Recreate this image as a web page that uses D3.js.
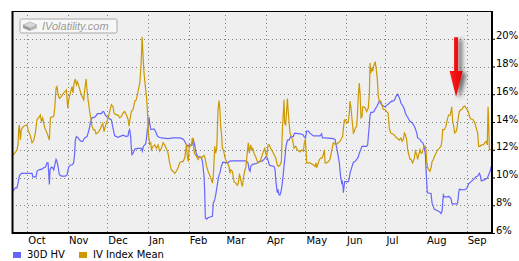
<!DOCTYPE html>
<html>
<head>
<meta charset="utf-8">
<script src="https://cdn.jsdelivr.net/npm/d3@7"></script>
<style>
  body { margin: 0; background: #fff; }
  text { font-family: "DejaVu Sans", Verdana, sans-serif; font-size: 10px; fill: #000; }
</style>
</head>
<body>
<svg id="chart"></svg>
<script>
// day offsets are counted from 1 Oct 2009, values in percent
const seriesNames = ['30D HV', 'IV Index Mean'];
const seriesColors = ['#6666ff', '#cc9900'];
const yTicks = [6, 8, 10, 12, 14, 16, 18, 20];

const hv30 = [
  [-11.7,8.9],[-10.4,9.1],[-9.1,9.25],[-7.9,9.25],[-7.1,9.6],[-6.1,10.1],[-4.6,10.3],[3.6,10.3],[4.1,10.05],
  [6.6,10.05],[7.4,10.45],[8.7,10.55],[11.2,10.6],[12.5,10.7],[13.8,10.75],[15.0,11.05],[15.8,11.05],[16.3,10.3],
  [16.8,9.5],[17.3,10.55],[18.3,10.75],[19.3,10.7],[20.1,10.55],[20.9,10.9],[21.9,11.3],[22.6,11.15],[23.4,10.8],
  [24.4,10.2],[26.0,10.1],[29.0,10.1],[30.3,10.2],[31.5,10.75],[32.8,10.9],[34.1,10.9],[35.3,11.05],[36.1,11.75],
  [36.6,12.7],[37.4,12.95],[38.7,12.85],[39.9,12.7],[41.2,12.6],[42.2,12.6],[43.7,12.85],[45.5,12.95],[46.3,13.2],
  [47.3,13.55],[48.3,14.05],[49.3,14.3],[51.4,14.35],[52.4,14.45],[53.4,14.6],[56.4,14.6],[57.5,14.75],[58.2,14.75],
  [59.5,14.5],[60.8,14.35],[61.5,14.3],[64.1,14.15],[65.3,13.55],[66.6,13.0],[69.2,12.9],[71.7,13.0],[73.0,13.05],
  [75.5,12.95],[76.8,13.0],[77.3,13.3],[78.0,13.45],[78.8,12.95],[79.3,12.1],[79.8,11.65],[80.6,11.75],[81.9,12.05],
  [84.4,12.1],[87.0,12.1],[87.7,11.9],[88.5,12.25],[89.5,12.35],[90.3,12.45],[91.0,12.95],[91.5,13.45],[92.3,13.7],
  [92.8,14.35],[93.3,13.9],[94.1,13.45],[96.6,13.5],[97.9,13.3],[99.1,13.0],[100.4,12.9],[102.2,12.85],[107.3,12.8],
  [111.1,12.85],[116.2,12.85],[118.0,12.8],[119.5,12.7],[120.5,12.5],[121.5,12.35],[122.5,12.25],[123.5,12.35],
  [125.6,12.35],[126.6,12.7],[127.6,12.35],[128.1,12.0],[129.1,11.65],[130.2,11.5],[132.7,11.45],[133.7,11.05],
  [134.2,10.55],[134.7,10.1],[135.2,9.1],[135.7,7.1],[136.8,7.0],[137.8,7.1],[139.3,7.15],[141.1,7.2],[141.8,8.15],
  [142.9,8.4],[143.9,8.9],[144.9,9.5],[145.9,10.1],[146.9,10.35],[147.9,10.8],[149.0,11.1],[153.0,11.05],[153.8,11.15],
  [155.1,11.2],[166.5,11.2],[167.3,11.15],[168.3,11.05],[169.1,10.55],[169.8,10.45],[170.3,10.8],[171.6,10.95],
  [174.1,11.0],[175.4,11.05],[176.7,11.15],[179.2,11.2],[180.5,11.3],[181.2,11.4],[182.0,11.5],[183.0,11.4],
  [183.8,11.15],[184.5,10.9],[185.5,10.85],[188.1,10.8],[188.9,10.55],[189.4,9.85],[190.1,9.25],[190.6,8.9],
  [191.1,9.15],[191.9,8.75],[192.7,8.75],[193.7,9.1],[194.4,9.6],[195.2,10.3],[195.7,10.8],[196.5,11.5],[197.2,12.25],
  [198.3,12.7],[199.5,12.7],[200.8,12.95],[202.8,12.95],[203.8,13.2],[207.9,13.15],[209.9,13.1],[211.0,12.95],
  [212.0,12.85],[213.0,13.35],[214.3,13.35],[215.5,13.2],[218.1,13.0],[223.2,13.0],[224.4,13.15],[225.0,12.85],
  [227.0,12.85],[233.3,12.8],[234.6,12.75],[235.4,12.35],[236.4,11.9],[237.1,11.5],[237.9,11.05],[238.4,10.55],
  [238.9,10.05],[239.7,9.6],[240.2,9.7],[240.7,9.35],[241.0,8.9],[241.5,9.35],[242.0,9.7],[244.8,9.7],[245.5,9.95],
  [246.0,10.3],[246.8,10.55],[247.6,10.8],[248.6,11.1],[249.8,11.15],[251.1,11.3],[252.4,11.5],[253.1,11.75],
  [254.2,12.0],[255.2,12.25],[258.7,12.25],[259.5,12.35],[260.0,12.95],[260.8,13.8],[261.3,14.5],[262.0,14.7],
  [263.3,14.7],[264.3,14.75],[265.3,14.95],[266.4,15.1],[267.4,15.3],[268.4,15.5],[269.4,15.35],[270.4,15.2],
  [272.7,15.1],[274.0,15.2],[275.3,15.3],[276.5,15.4],[277.8,15.5],[279.1,15.5],[280.3,15.65],[281.1,15.85],
  [282.4,16.0],[283.1,15.85],[284.2,15.6],[284.9,15.35],[285.7,15.25],[286.7,15.1],[287.5,14.9],[288.2,14.65],
  [289.2,14.45],[290.0,14.35],[290.8,14.2],[291.8,14.05],[293.8,13.9],[295.1,13.7],[295.9,13.5],[296.9,13.2],
  [297.6,12.85],[299.4,12.75],[300.2,12.6],[301.5,12.5],[302.2,12.35],[303.0,12.0],[303.5,11.65],[304.0,10.55],
  [304.5,9.7],[305.0,8.9],[307.8,8.85],[308.6,8.15],[309.6,7.9],[310.4,7.7],[312.9,7.6],[314.7,7.5],[315.4,7.4],
  [316.2,7.55],[316.7,8.15],[317.2,8.75],[318.0,8.6],[320.5,8.6],[321.3,8.65],[323.0,8.5],[323.8,8.1],[327.9,8.1],
  [328.4,8.4],[328.9,8.9],[329.4,9.15],[333.2,9.1],[335.0,9.2],[336.5,9.55],[338.3,9.7],[340.1,9.85],[342.1,10.05],
  [343.4,10.1],[344.7,10.3],[345.5,10.1],[346.2,9.75],[348.5,9.85],[350.7,9.95],[351.8,10.2],[352.8,10.45],
  [353.5,10.7],[354.3,10.95]
];

const ivMean = [
  [-11.7,11.55],[-9.6,11.75],[-7.9,12.0],[-7.1,12.4],[-6.6,13.45],[-6.1,13.8],[-5.3,12.7],[-4.6,13.45],[-2.8,13.7],
  [-0.2,13.8],[0.5,13.45],[2.3,13.0],[3.6,12.5],[4.9,12.7],[6.1,13.2],[7.4,14.2],[8.7,14.3],[9.9,14.5],[10.7,14.05],
  [11.7,14.3],[12.7,13.8],[13.8,13.45],[15.0,13.2],[16.3,12.85],[16.8,12.7],[17.6,14.3],[18.8,14.35],[20.1,14.4],
  [20.9,15.0],[21.9,16.45],[22.6,16.55],[23.4,16.0],[24.4,15.7],[26.0,15.85],[27.7,16.1],[29.0,16.2],[29.8,16.3],
  [30.8,15.0],[31.5,15.6],[32.8,16.1],[34.1,16.55],[34.8,16.1],[35.6,16.8],[36.6,17.1],[37.4,16.7],[38.1,16.9],
  [39.2,16.6],[40.4,16.2],[41.7,15.85],[43.0,15.6],[43.7,16.3],[44.8,17.1],[45.5,16.3],[46.3,15.6],[47.3,14.9],
  [48.3,14.3],[49.3,13.7],[50.3,13.45],[51.4,13.45],[52.4,13.15],[53.4,13.2],[54.4,13.3],[55.4,13.45],[56.4,13.7],
  [57.5,13.9],[58.5,13.3],[59.5,13.7],[60.8,14.05],[61.5,14.3],[62.8,14.75],[64.1,15.25],[65.3,15.1],[66.1,14.65],
  [67.1,14.55],[69.2,14.5],[70.4,14.3],[71.7,14.4],[73.0,14.65],[74.2,14.75],[75.5,14.5],[76.8,14.2],[77.5,13.7],
  [78.3,14.2],[79.3,14.75],[80.6,14.9],[81.9,15.5],[83.1,15.6],[84.4,16.2],[85.7,16.8],[86.4,17.65],[86.9,18.5],
  [87.5,20.15],[88.0,19.2],[88.5,18.25],[89.0,17.5],[90.0,16.55],[90.8,15.85],[91.5,14.9],[92.0,13.7],[92.5,13.0],
  [93.3,12.4],[94.1,12.5],[94.6,12.0],[95.8,12.25],[97.1,12.35],[98.4,12.1],[99.7,12.35],[100.9,11.9],[102.2,12.1],
  [103.5,12.5],[104.7,12.35],[106.0,12.1],[107.3,11.75],[108.5,11.05],[109.8,10.55],[111.1,10.45],[112.4,10.3],
  [113.6,10.45],[114.9,10.7],[116.2,11.05],[117.4,11.15],[118.7,11.15],[120.0,11.4],[121.3,12.4],[122.0,11.5],
  [122.8,11.15],[123.5,12.4],[124.3,12.25],[125.1,12.35],[125.8,12.85],[126.6,12.35],[127.4,11.75],[128.1,11.65],
  [129.1,11.5],[130.2,11.3],[131.4,11.5],[132.7,11.4],[134.7,11.6],[135.5,11.4],[136.7,10.8],[137.8,10.45],
  [139.3,10.1],[140.3,9.85],[141.1,9.6],[141.8,10.1],[142.3,11.05],[142.9,12.25],[143.6,11.75],[144.4,12.1],
  [144.9,13.45],[145.4,14.9],[146.2,15.55],[146.7,15.1],[147.4,13.7],[148.2,12.95],[148.7,12.1],[149.5,12.0],
  [150.5,11.5],[151.2,11.3],[152.5,11.05],[153.8,10.8],[154.5,10.3],[155.1,10.55],[156.3,10.45],[157.6,9.7],
  [158.9,9.6],[160.1,9.45],[160.9,9.6],[161.7,10.2],[162.2,10.1],[163.2,9.6],[164.0,9.35],[164.7,9.95],[165.7,10.45],
  [166.7,10.8],[167.8,11.9],[168.5,12.5],[169.3,11.75],[170.3,12.35],[171.1,12.0],[171.8,12.1],[172.8,11.75],
  [174.1,11.5],[175.4,11.15],[176.1,11.05],[177.4,11.15],[178.4,11.4],[179.2,11.65],[180.0,11.9],[181.0,12.1],
  [181.7,11.75],[182.5,11.5],[183.5,12.35],[184.5,12.35],[185.5,12.1],[186.8,11.9],[188.1,11.65],[189.4,11.4],
  [190.6,10.9],[191.6,10.8],[192.7,10.9],[193.7,11.15],[194.2,12.7],[194.7,13.9],[195.2,14.65],[195.7,15.6],
  [196.2,13.9],[197.0,13.8],[197.8,14.95],[198.3,15.7],[198.8,14.9],[199.5,14.05],[200.3,13.2],[201.3,12.95],
  [202.3,12.7],[203.3,12.1],[204.6,12.25],[205.9,12.0],[207.9,11.85],[209.2,12.0],[210.5,11.9],[211.2,12.5],
  [212.0,12.75],[212.5,12.0],[213.0,11.05],[215.5,11.05],[218.1,10.9],[219.3,10.8],[220.1,11.05],[220.6,10.7],
  [221.9,11.05],[222.7,11.3],[223.7,11.4],[224.7,11.4],[225.7,11.65],[226.5,12.0],[227.0,11.05],[228.2,11.05],
  [229.5,11.15],[230.8,11.3],[232.0,11.9],[233.3,12.5],[234.6,12.4],[235.9,12.4],[237.1,12.5],[238.4,12.6],
  [239.7,12.85],[240.4,12.95],[240.9,13.45],[241.7,14.15],[242.5,14.15],[243.5,13.9],[244.8,14.05],[245.5,14.65],
  [246.0,15.5],[246.8,15.0],[247.6,14.15],[248.6,13.2],[249.3,13.3],[250.1,13.55],[251.1,13.7],[251.6,14.4],
  [252.4,15.95],[253.1,16.8],[253.7,16.05],[254.4,14.3],[255.2,14.4],[255.7,15.1],[256.7,15.1],[257.7,15.0],
  [258.7,14.75],[260.0,15.0],[260.8,16.1],[261.3,18.25],[261.8,17.5],[262.5,17.9],[263.3,17.65],[264.3,18.1],
  [265.3,18.35],[265.9,17.9],[266.9,17.05],[267.6,15.85],[268.4,15.5],[269.4,15.5],[270.4,15.25],[271.4,14.9],
  [272.7,14.9],[274.0,14.75],[275.0,14.65],[275.5,14.2],[276.0,13.55],[277.0,13.2],[278.6,13.15],[280.3,13.0],
  [281.1,12.9],[283.6,12.7],[284.9,12.85],[285.7,12.6],[286.7,12.75],[287.5,13.2],[288.2,13.1],[289.2,12.75],
  [290.0,12.0],[290.8,11.65],[291.8,11.3],[292.5,11.3],[293.8,11.05],[295.1,11.4],[295.9,11.9],[296.9,11.65],
  [297.6,11.3],[298.4,11.65],[299.4,12.0],[300.2,11.75],[300.9,11.75],[302.0,12.1],[302.7,12.25],[303.5,12.25],
  [304.0,12.0],[304.5,11.15],[305.3,10.7],[306.0,10.55],[307.0,10.45],[307.8,10.7],[308.6,11.15],[309.6,11.3],
  [310.3,11.5],[311.6,11.75],[312.9,12.0],[314.1,12.1],[315.4,12.25],[316.2,12.7],[316.7,13.45],[318.0,13.45],
  [319.2,13.7],[319.7,13.95],[320.5,14.3],[321.3,14.5],[322.3,14.5],[323.0,14.75],[323.6,15.1],[324.3,14.05],
  [325.1,13.7],[325.8,13.2],[326.9,13.3],[327.6,13.55],[328.4,14.2],[329.4,14.75],[330.7,14.9],[331.4,14.9],
  [332.5,15.1],[333.5,15.15],[334.5,15.0],[335.5,14.9],[336.5,14.65],[337.5,14.3],[338.5,14.2],[339.6,14.2],
  [340.6,14.05],[341.6,13.8],[342.6,13.45],[343.4,13.2],[344.1,12.25],[345.2,12.25],[346.2,12.35],[347.7,12.35],
  [348.7,12.5],[349.7,12.6],[350.7,12.35],[351.3,15.1],[351.8,13.7],[352.3,12.0],[354.0,12.0]
];

// red arrow annotation: day, top value, tip value
const arrowNote = [326.9, 20.1, 15.8];

const W = 519, H = 261;
const margin = {top: 11, right: 27, bottom: 28, left: 12};
const width = W - margin.left - margin.right,
      height = H - margin.top - margin.bottom;

const origin = Date.UTC(2009, 9, 1);
const toDate = d => new Date(origin + d * 864e5);

const xScale = d3.scaleUtc()
    .domain([toDate(-11.7), toDate(354.3)])
    .range([margin.left, margin.left + width]);

const yScale = d3.scaleLinear()
    .domain([6, 22])
    .range([margin.top + height, margin.top]);

const svg = d3.select('#chart')
    .attr('width', W)
    .attr('height', H);

const defs = svg.append('defs');
const shadow = defs.append('filter').attr('id', 'shadow')
    .attr('x', '-50%').attr('y', '-20%').attr('width', '200%').attr('height', '150%');
shadow.append('feDropShadow')
    .attr('dx', 4).attr('dy', 2).attr('stdDeviation', 2)
    .attr('flood-color', '#000').attr('flood-opacity', 0.55);

const redGrad = defs.append('linearGradient').attr('id', 'redGrad')
    .attr('x1', 0).attr('x2', 1).attr('y1', 0).attr('y2', 0);
redGrad.append('stop').attr('offset', '0%').attr('stop-color', '#ff2020');
redGrad.append('stop').attr('offset', '100%').attr('stop-color', '#e00000');

// plot background
svg.append('rect')
    .attr('x', margin.left).attr('y', margin.top)
    .attr('width', width).attr('height', height)
    .attr('fill', '#efefef');

// horizontal grid
svg.append('g')
    .selectAll('line')
    .data(yTicks.filter(d => d > 6))
    .join('line')
    .attr('x1', margin.left).attr('x2', margin.left + width)
    .attr('y1', d => Math.round(yScale(d)) + 0.5)
    .attr('y2', d => Math.round(yScale(d)) + 0.5)
    .attr('stroke', '#808080')
    .attr('stroke-dasharray', '1,3');

// vertical month grid
const months = d3.utcMonth.range(xScale.domain()[0], xScale.domain()[1]);
svg.append('g')
    .selectAll('line')
    .data(months)
    .join('line')
    .attr('x1', d => Math.round(xScale(d)) + 0.5)
    .attr('x2', d => Math.round(xScale(d)) + 0.5)
    .attr('y1', margin.top).attr('y2', margin.top + height)
    .attr('stroke', '#808080')
    .attr('stroke-dasharray', '1,3');

// logo
const logo = svg.append('g').attr('transform', 'translate(20,19)');
logo.append('rect')
    .attr('width', 97).attr('height', 14).attr('rx', 1.5)
    .attr('fill', '#f7f7f7').attr('stroke', '#a8a8a8');
logo.append('path').attr('d', 'M3,6 L10,3 L17,6 L10,9 Z').attr('fill', '#d8d8d8').attr('stroke', '#999').attr('stroke-width', 0.5);
logo.append('path').attr('d', 'M3,6 L10,9 L10,12 L3,9 Z').attr('fill', '#9a9a9a');
logo.append('path').attr('d', 'M17,6 L10,9 L10,12 L17,9 Z').attr('fill', '#b5b5b5');
logo.append('text')
    .attr('x', 22).attr('y', 10.5)
    .style('font-family', '"Liberation Sans", Arial, sans-serif')
    .style('font-style', 'italic')
    .style('font-size', '11px')
    .style('fill', '#9a9a9a')
    .text('IVolatility.com');

// series lines
const line = d3.line()
    .x(d => xScale(toDate(d[0])))
    .y(d => yScale(d[1]));

[hv30, ivMean].forEach((s, i) => {
    svg.append('path')
        .datum(s)
        .attr('d', line)
        .attr('fill', 'none')
        .attr('stroke', seriesColors[i])
        .attr('stroke-width', 1.2)
        .attr('stroke-linejoin', 'miter');
});

// frame
svg.append('line')
    .attr('x1', margin.left).attr('x2', margin.left + width)
    .attr('y1', margin.top + 0.5).attr('y2', margin.top + 0.5)
    .attr('stroke', '#000');
svg.append('path')
    .attr('d', `M${margin.left + 0.5},${margin.top} V${margin.top + height} H${margin.left + width} V${margin.top}`)
    .attr('fill', 'none')
    .attr('stroke', '#000')
    .attr('stroke-width', 2);

// right axis
const yAxis = svg.append('g')
    .attr('transform', `translate(${margin.left + width},0)`)
    .call(d3.axisRight(yScale).tickValues(yTicks).tickSize(3).tickPadding(1).tickFormat(d => d + '%'));
yAxis.select('.domain').remove();
yAxis.selectAll('text').attr('dy', 0).style('font-family', '"DejaVu Sans", sans-serif').style('font-size', '10px');

// month labels
svg.append('g')
    .selectAll('text')
    .data(months)
    .join('text')
    .attr('x', d => xScale(d) + 1)
    .attr('y', margin.top + height + 11)
    .text(d => d3.utcFormat('%b')(d));

// arrow annotation
const ax = xScale(toDate(arrowNote[0])),
      aTop = yScale(arrowNote[1]),
      aTip = yScale(arrowNote[2]);
svg.append('path')
    .attr('d', `M${ax - 2},${aTop} H${ax + 2} V${aTip - 26} H${ax + 6.5} L${ax},${aTip} L${ax - 6.5},${aTip - 26} H${ax - 2} Z`)
    .attr('fill', 'url(#redGrad)')
    .attr('filter', 'url(#shadow)');

// legend
const legend = svg.append('g').attr('transform', `translate(13,${H - 7})`);
const legendX = [0, 66];
seriesNames.forEach((name, i) => {
    legend.append('rect')
        .attr('x', legendX[i]).attr('y', -2)
        .attr('width', 8).attr('height', 6)
        .attr('fill', seriesColors[i]);
    legend.append('text')
        .attr('x', legendX[i] + 14).attr('y', 4)
        .text(name);
});
</script>
</body>
</html>
